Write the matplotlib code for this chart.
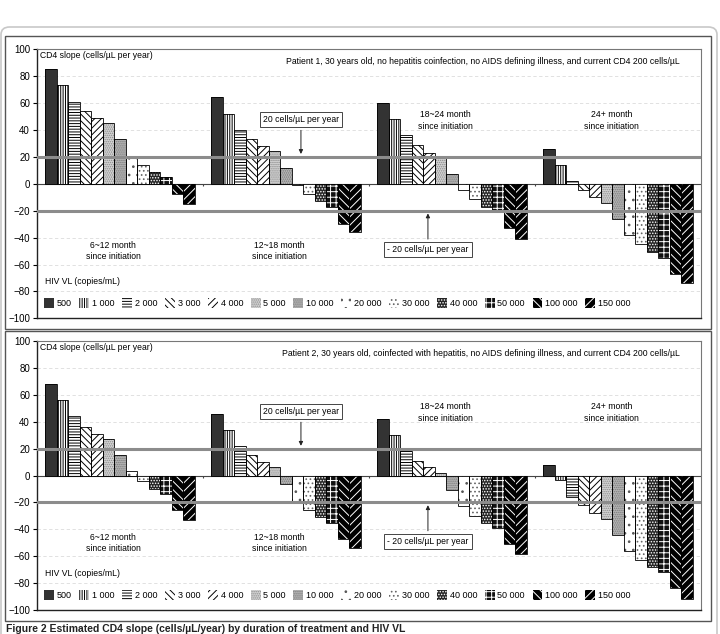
import matplotlib
matplotlib.use('Agg')
import matplotlib.pyplot as plt
import numpy as np
from matplotlib.patches import Patch, Rectangle, FancyBboxPatch

plt.rcParams['font.family'] = ['Liberation Sans', 'DejaVu Sans']
plt.rcParams['hatch.linewidth'] = 0.7

# HIV viral load categories (legend)
vl_labels = ['500', '1 000', '2 000', '3 000', '4 000', '5 000', '10 000',
             '20 000', '30 000', '40 000', '50 000', '100 000', '150 000']
durations = ['6~12 month\nsince initiation', '12~18 month\nsince initiation',
             '18~24 month\nsince initiation', '24+ month\nsince initiation']

# patient 1, CD4 slope per duration group (one value per VL category)
p1_6_12 = [85, 73, 61, 54, 49, 45, 33, 20, 14, 9, 5, -8, -15]
p1_12_18 = [64, 52, 40, 33, 28, 24, 12, -1, -8, -13, -17, -30, -36]
p1_18_24 = [60, 48, 36, 29, 23, 20, 7, -5, -11, -17, -20, -33, -41]
p1_24 = [26, 14, 2, -5, -10, -14, -26, -38, -45, -51, -55, -67, -74]

# patient 2
p2_6_12 = [68, 56, 44, 36, 31, 27, 15, 3, -4, -10, -14, -26, -33]
p2_12_18 = [46, 34, 22, 15, 10, 6, -6, -19, -26, -31, -35, -47, -54]
p2_18_24 = [42, 30, 18, 11, 6, 2, -11, -23, -30, -35, -39, -51, -58]
p2_24 = [8, -3, -16, -22, -28, -32, -44, -56, -63, -68, -72, -84, -92]

titles = ['Patient 1, 30 years old, no hepatitis coinfection, no AIDS defining illness, and current CD4 200 cells/\u00b5L',
          'Patient 2, 30 years old, coinfected with hepatitis, no AIDS defining illness, and current CD4 200 cells/\u00b5L']

# (face colour, hatch, hatch colour) per VL category, Excel-like patterns
styles = [('#333333', None, '#333333'),
          ('white', '|||||||', 'black'),
          ('white', '------', 'black'),
          ('white', '\\\\\\\\\\', 'black'),
          ('white', '/////', 'black'),
          ('#d4d4d4', '........', '#8a8a8a'),
          ('#b4b4b4', '........', '#7a7a7a'),
          ('white', '..', '#555555'),
          ('white', '....', '#666666'),
          ('#262626', '......', 'white'),
          ('#111111', '+++', 'white'),
          ('black', '\\\\\\\\', 'white'),
          ('black', '////', 'white')]

W, H = 720, 634
fig = plt.figure(figsize=(7.2, 6.34), dpi=100)


def fig_rect(x0, y0, x1, y1):
    return (x0 / W, 1 - y1 / H, (x1 - x0) / W, (y1 - y0) / H)


# page-like frames
fig.add_artist(FancyBboxPatch((1 / W, -0.05), 716 / W, 1 - 27 / H + 0.05,
                              boxstyle='round,pad=0,rounding_size=0.012',
                              transform=fig.transFigure, fill=False,
                              ec='#c8c8c8', lw=1.2))
for y0, y1 in [(36, 329), (331, 621)]:
    x, y, w, h = fig_rect(5, y0, 711, y1)
    fig.add_artist(Rectangle((x, y), w, h, transform=fig.transFigure,
                             fill=False, ec='#555555', lw=1.0))

fig.text(6 / W, 1 - 633.5 / H, 'Figure 2 Estimated CD4 slope (cells/\u00b5L/year) by duration of treatment and HIV VL',
         fontsize=7.5, fontweight='bold', va='bottom', color='#222222')


def panel(rect, groups, title):
    ax = fig.add_axes(rect)
    n = len(vl_labels)
    w = 0.9 / n
    handles = []
    for i in range(n):
        vals = [g[i] for g in groups]
        xs = np.arange(len(groups)) + (i - (n - 1) / 2) * w
        fc, hatch, hc = styles[i]
        ax.bar(xs, vals, w, color=fc, hatch=hatch, edgecolor=hc, linewidth=0, zorder=3)
        ax.bar(xs, vals, w, fill=False, edgecolor='black', linewidth=0.6, zorder=4)
        handles.append(Patch(facecolor=fc, hatch=hatch, edgecolor=hc, linewidth=0))

    ax.set_xlim(-0.5, len(groups) - 0.5)
    ax.set_ylim(-100, 100)
    ax.set_yticks(np.arange(-100, 101, 20))
    ax.set_xticks([])
    ax.tick_params(axis='y', labelsize=7, length=3, width=0.8, pad=2)
    ax.yaxis.grid(True, ls=(0, (4, 3)), color='#dcdcdc', lw=0.6, zorder=0)
    for s in ['top', 'right']:
        ax.spines[s].set_color('#777777')
        ax.spines[s].set_linewidth(0.8)
    for s in ['left', 'bottom']:
        ax.spines[s].set_color('#222222')
        ax.spines[s].set_linewidth(1.0)

    ax.axhline(0, color='#444444', lw=0.8, zorder=2)
    ax.vlines(np.arange(len(groups) - 1) + 0.5, -1.6, 0, color='#444444', lw=0.8, zorder=2)
    ax.axhline(20, color='#8c8c8c', lw=2.2, zorder=5)
    ax.axhline(-20, color='#8c8c8c', lw=2.2, zorder=5)

    ax.text(0.005, 95.3, 'CD4 slope (cells/\u00b5L per year)', transform=ax.get_yaxis_transform(),
            fontsize=6.2, va='center', ha='left')
    ax.text(0.968, 91, title, transform=ax.get_yaxis_transform(),
            fontsize=6.2, va='center', ha='right')

    label_y = [-50, -50, 47, 47]
    for gi, lab in enumerate(durations):
        ax.text(gi - 0.04, label_y[gi], lab, fontsize=6.2, ha='center', va='center',
                linespacing=1.35, zorder=6)

    box = dict(boxstyle='square,pad=0.35', fc='white', ec='#444444', lw=0.7)
    arr = dict(arrowstyle='-|>', color='#222222', lw=0.7, mutation_scale=6)
    ax.annotate('20 cells/\u00b5L per year', xy=(1.09, 20), xytext=(1.09, 47.5),
                fontsize=6.2, ha='center', va='center', bbox=box, arrowprops=arr, zorder=7)
    ax.annotate('- 20 cells/\u00b5L per year', xy=(1.855, -20), xytext=(1.855, -49),
                fontsize=6.2, ha='center', va='center', bbox=box, arrowprops=arr, zorder=7)

    ax.text(0.012, -72.7, 'HIV VL (copies/mL)', transform=ax.get_yaxis_transform(),
            fontsize=6.2, va='center', ha='left')
    leg = ax.legend(handles, vl_labels, ncol=n, loc='center left',
                    bbox_to_anchor=(0.008, (100 - 88.7) / 200), frameon=False,
                    fontsize=6.5, handlelength=1.1, handleheight=1.3,
                    handletextpad=0.3, columnspacing=0.85, borderaxespad=0,
                    borderpad=0.2)
    leg.set_zorder(8)
    return ax


panel(fig_rect(37, 49, 701, 318.4), [p1_6_12, p1_12_18, p1_18_24, p1_24], titles[0])
panel(fig_rect(37, 341, 701, 610), [p2_6_12, p2_12_18, p2_18_24, p2_24], titles[1])

fig.savefig('out.png', dpi=100)
